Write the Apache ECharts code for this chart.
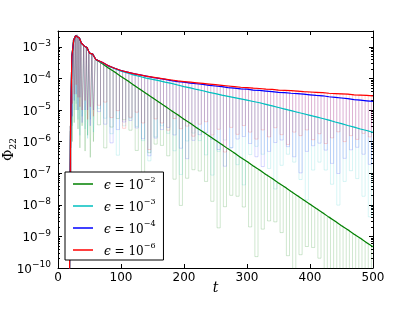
<!DOCTYPE html>
<html><head><meta charset="utf-8">
<script src="https://cdn.jsdelivr.net/npm/echarts@6/dist/echarts.min.js"></script>
<style>html,body{margin:0;padding:0;background:#fff}#c{width:415px;height:312px}</style>
</head><body><div id="c"></div>
<script>
// ---- data (values are log10 of Phi_22) ----
const xTicks = [0, 100, 200, 300, 400, 500];
const yTickExps = [-10, -9, -8, -7, -6, -5, -4, -3];
const epsLabels = ['−2', '−3', '−4', '−6'];
const seriesNames = ['eps2', 'eps3', 'eps4', 'eps6'];
const colors = ['#008000', '#00BFBF', '#0000FF', '#FF0000'];

// envelope sample times
const tEarly = [18, 20, 22, 25, 28, 31, 34, 37, 42, 46, 50, 55, 60];
const tLate = [70,80,90,100,110,120,130,140,150,160,170,180,190,200,210,220,230,240,250,260,270,280,290,300,310,320,330,340,350,360,370,380,390,400,410,420,430,440,450,460,470,480,490,500];
// trough sample times (between envelope samples)
const tTroughEarly = [19, 21, 23.5, 26.5, 29.5, 32.5, 35.5, 39.5, 44, 48, 52.5, 57.5];
const tTroughLate = [65,75,85,95,105,115,125,135,145,155,165,175,185,195,205,215,225,235,245,255,265,275,285,295,305,315,325,335,345,355,365,375,385,395,405,415,425,435,445,455,465,475,485,495];

// shared early envelope (all four curves coincide)
const envEarly = [-11, -5.5, -3.3, -2.78, -2.65, -2.62, -2.72, -2.88, -2.98, -3.02, -3.20, -3.23, -3.40];

const envGreen = [-3.53,-3.67,-3.80,-3.94,-4.07,-4.21,-4.34,-4.48,-4.61,-4.75,-4.88,-5.02,-5.15,-5.29,-5.42,-5.56,-5.69,-5.82,-5.96,-6.09,-6.23,-6.36,-6.50,-6.63,-6.77,-6.90,-7.04,-7.17,-7.31,-7.44,-7.58,-7.71,-7.85,-7.98,-8.12,-8.25,-8.39,-8.52,-8.66,-8.79,-8.93,-9.06,-9.20,-9.33];
const envCyan = [-3.50,-3.61,-3.69,-3.77,-3.83,-3.89,-3.94,-3.99,-4.03,-4.07,-4.12,-4.16,-4.21,-4.26,-4.30,-4.35,-4.39,-4.44,-4.48,-4.53,-4.57,-4.61,-4.65,-4.69,-4.73,-4.77,-4.82,-4.87,-4.92,-4.97,-5.02,-5.07,-5.12,-5.17,-5.22,-5.27,-5.32,-5.38,-5.43,-5.49,-5.54,-5.60,-5.65,-5.71];
const envBlue = [-3.49,-3.60,-3.68,-3.75,-3.80,-3.85,-3.89,-3.93,-3.97,-4.00,-4.03,-4.07,-4.10,-4.12,-4.15,-4.17,-4.19,-4.22,-4.24,-4.26,-4.29,-4.31,-4.33,-4.34,-4.37,-4.38,-4.40,-4.42,-4.44,-4.45,-4.47,-4.48,-4.50,-4.52,-4.54,-4.55,-4.58,-4.60,-4.62,-4.64,-4.67,-4.69,-4.71,-4.73];
const envRed = [-3.49,-3.60,-3.68,-3.75,-3.80,-3.85,-3.89,-3.93,-3.96,-3.99,-4.02,-4.05,-4.08,-4.10,-4.12,-4.14,-4.16,-4.18,-4.20,-4.22,-4.24,-4.26,-4.28,-4.29,-4.31,-4.32,-4.34,-4.35,-4.37,-4.38,-4.39,-4.40,-4.42,-4.43,-4.44,-4.45,-4.47,-4.48,-4.49,-4.50,-4.52,-4.53,-4.54,-4.55];

// oscillation troughs (faint lines)
const trGreen = [-11,-9.5,-6.0,-5.4,-5.0,-5.6,-6.2,-5.5,-6.3,-5.8,-6.5,-6.0,
  -5.47,-6.20,-5.54,-5.27,-5.31,-5.64,-6.28,-7.11,-6.35,-6.08,-6.12,-6.45,-7.19,-8.02,-7.16,-6.89,-6.93,-7.26,-7.89,-8.73,-8.06,-7.70,-7.73,-8.07,-8.70,-9.64,-8.77,-8.51,-8.54,-8.88,-9.61,-10.35,-9.58,-9.32,-9.35,-9.69,-10.32,-11.26,-10.49,-10.13,-10.16,-10.50,-11.13,-11.87];
const trCyan = [-11,-9,-5.5,-5.0,-4.8,-5.3,-5.8,-5.2,-5.6,-5.9,-5.3,-5.7,
  -4.95,-5.26,-5.75,-6.43,-5.50,-5.26,-5.52,-5.97,-6.61,-5.85,-5.50,-5.74,-6.29,-7.04,-5.98,-5.73,-5.97,-6.42,-7.06,-6.31,-5.95,-6.19,-6.73,-7.37,-6.41,-6.15,-6.40,-6.85,-7.50,-6.75,-6.40,-6.65,-7.20,-7.85,-6.90,-6.65,-6.90,-7.35,-8.01,-7.26,-6.92,-7.17,-7.73,-8.38];
const trBlue = [-11,-8.5,-5.2,-4.7,-4.5,-5.0,-4.6,-5.4,-5.0,-5.0,-5.5,-5.0,
  -5.05,-5.45,-6.04,-5.62,-5.38,-5.33,-5.57,-5.91,-6.45,-5.89,-5.62,-5.55,-5.79,-6.21,-6.54,-5.96,-5.78,-5.71,-5.93,-6.25,-6.78,-6.20,-5.92,-5.84,-6.06,-6.48,-6.79,-6.31,-6.03,-5.95,-6.16,-6.48,-6.99,-6.31,-6.13,-6.05,-6.27,-6.69,-7.01,-6.53,-6.26,-6.18,-6.40,-6.72];
const trRed = [-11,-8,-4.8,-4.5,-4.2,-4.6,-4.9,-5.0,-4.7,-5.3,-4.9,-5.2,
  -4.85,-4.75,-5.24,-5.02,-5.58,-5.23,-5.07,-5.41,-6.25,-5.28,-5.41,-5.64,-5.27,-5.59,-5.51,-5.83,-5.45,-5.37,-5.79,-5.61,-6.33,-5.55,-5.77,-5.49,-5.70,-5.92,-5.63,-5.85,-5.56,-5.78,-6.09,-5.70,-5.81,-5.63,-5.94,-5.75,-6.06,-5.88,-5.69,-6.00,-5.81,-5.93,-5.74,-5.85];

// ---- build ----
const tPeak = tEarly.concat(tLate);
const tTrough = tTroughEarly.concat(tTroughLate);
const envs = [envGreen, envCyan, envBlue, envRed].map(a => envEarly.concat(a));
const troughs = [trGreen, trCyan, trBlue, trRed];
const P = e => Math.pow(10, e);

const yMin = P(-10), yMax = P(-2.5);
const majorVals = yTickExps.map(P);
const minorVals = [];
yTickExps.forEach(e => { for (let k = 2; k <= 9; k++) { const v = k * P(e); if (v < yMax) minorVals.push(v); } });

const oscOpacity = [0.24, 0.2, 0.2, 0.22];
const series = [];
envs.forEach((env, s) => {
  const d = [];
  tPeak.forEach((t, i) => {
    d.push([t, P(env[i])]);
    if (i < tTrough.length) d.push([tTrough[i], P(troughs[s][i])]);
  });
  series.push({
    name: '_osc' + s, type: 'line', data: d, showSymbol: false, symbol: 'none', step: 'middle',
    lineStyle: { color: colors[s], width: 0.8, opacity: oscOpacity[s] }, z: 1, silent: true
  });
});
envs.forEach((env, s) => {
  series.push({
    name: seriesNames[s], type: 'line', data: tPeak.map((t, i) => [t, P(env[i])]),
    showSymbol: false, symbol: 'none', color: colors[s],
    lineStyle: { color: colors[s], width: 1.2 }, z: 3
  });
});

const supRich = {
  b: { fontFamily: 'DejaVu Sans', fontSize: 12, lineHeight: 15, verticalAlign: 'bottom', color: '#000' },
  s: { fontFamily: 'DejaVu Sans', fontSize: 9, lineHeight: 10, verticalAlign: 'top', color: '#000' }
};
const grid = { left: 58, right: 42, top: 31, bottom: 44, containLabel: false, outerBoundsMode: 'none' };
const axLine = { show: true, onZero: false, lineStyle: { color: '#000', width: 1 } };

const option = {
  animation: false,
  backgroundColor: '#fff',
  grid: [Object.assign({}, grid), Object.assign({}, grid)],
  xAxis: [
    { gridIndex: 0, type: 'value', position: 'bottom', min: 0, max: 500, interval: 100,
      axisLine: axLine, splitLine: { show: false },
      axisTick: { inside: true, length: 4, lineStyle: { color: '#000' } },
      axisLabel: { margin: 4, fontFamily: 'DejaVu Sans', fontSize: 12, color: '#000',
        customValues: xTicks, formatter: v => String(v) },
      name: 't', nameLocation: 'middle', nameGap: 13, nameMoveOverlap: false,
      nameTextStyle: { fontFamily: 'DejaVu Serif', fontStyle: 'italic', fontSize: 14, color: '#000' } },
    { gridIndex: 0, type: 'value', position: 'top', min: 0, max: 500, interval: 100,
      axisLine: axLine, splitLine: { show: false },
      axisTick: { inside: true, length: 4, lineStyle: { color: '#000' } },
      axisLabel: { show: false } },
    { gridIndex: 1, type: 'value', min: 0, max: 500, show: false }
  ],
  yAxis: [
    { gridIndex: 0, type: 'log', logBase: 10, position: 'left', min: yMin, max: yMax,
      axisLine: axLine, splitLine: { show: false },
      axisTick: { inside: true, length: 4, customValues: majorVals, lineStyle: { color: '#000' } },
      axisLabel: { margin: 7, customValues: majorVals, rich: supRich,
        formatter: v => { const e = Math.round(Math.log10(v)); return '{b|10}{s|−' + (-e) + '}'; } },
      name: '{p|Φ}{q|22}', nameLocation: 'middle', nameGap: 40, nameRotate: 90, nameMoveOverlap: false,
      nameTextStyle: { rich: {
        p: { fontFamily: 'DejaVu Serif', fontSize: 14, lineHeight: 16, verticalAlign: 'top', color: '#000' },
        q: { fontFamily: 'DejaVu Serif', fontSize: 9, lineHeight: 10, verticalAlign: 'bottom', color: '#000' } } } },
    { gridIndex: 0, type: 'log', logBase: 10, position: 'right', min: yMin, max: yMax,
      axisLine: axLine, splitLine: { show: false },
      axisTick: { inside: true, length: 4, customValues: majorVals, lineStyle: { color: '#000' } },
      axisLabel: { show: false } },
    { gridIndex: 1, type: 'log', logBase: 10, position: 'left', min: yMin, max: yMax,
      axisLine: { show: false }, splitLine: { show: false },
      axisTick: { inside: true, length: 2, customValues: minorVals, lineStyle: { color: '#000' } },
      axisLabel: { show: false } },
    { gridIndex: 1, type: 'log', logBase: 10, position: 'right', min: yMin, max: yMax,
      axisLine: { show: false }, splitLine: { show: false },
      axisTick: { inside: true, length: 2, customValues: minorVals, lineStyle: { color: '#000' } },
      axisLabel: { show: false } }
  ],
  legend: {
    data: seriesNames, orient: 'vertical', left: 65, top: 172,
    backgroundColor: '#fff', borderColor: '#000', borderWidth: 1, borderRadius: 0,
    padding: [4, 8, 2, 8], itemWidth: 20, itemHeight: 1.5, itemGap: 6, icon: 'rect',
    formatter: name => { const i = seriesNames.indexOf(name);
      return '{e|ϵ}{n| = 10}{s|' + epsLabels[i] + '}'; },
    textStyle: { rich: {
      e: { fontFamily: 'DejaVu Serif', fontStyle: 'italic', fontSize: 12, lineHeight: 16, verticalAlign: 'bottom', padding: [0, 0, 0, 6], color: '#000' },
      n: { fontFamily: 'DejaVu Serif', fontSize: 12, lineHeight: 16, verticalAlign: 'bottom', color: '#000' },
      s: { fontFamily: 'DejaVu Serif', fontSize: 8, lineHeight: 10, verticalAlign: 'top', color: '#000' } } }
  },
  series: series
};
const chart = echarts.init(document.getElementById('c'), null, { renderer: 'canvas' });
chart.setOption(option);
</script></body></html>
